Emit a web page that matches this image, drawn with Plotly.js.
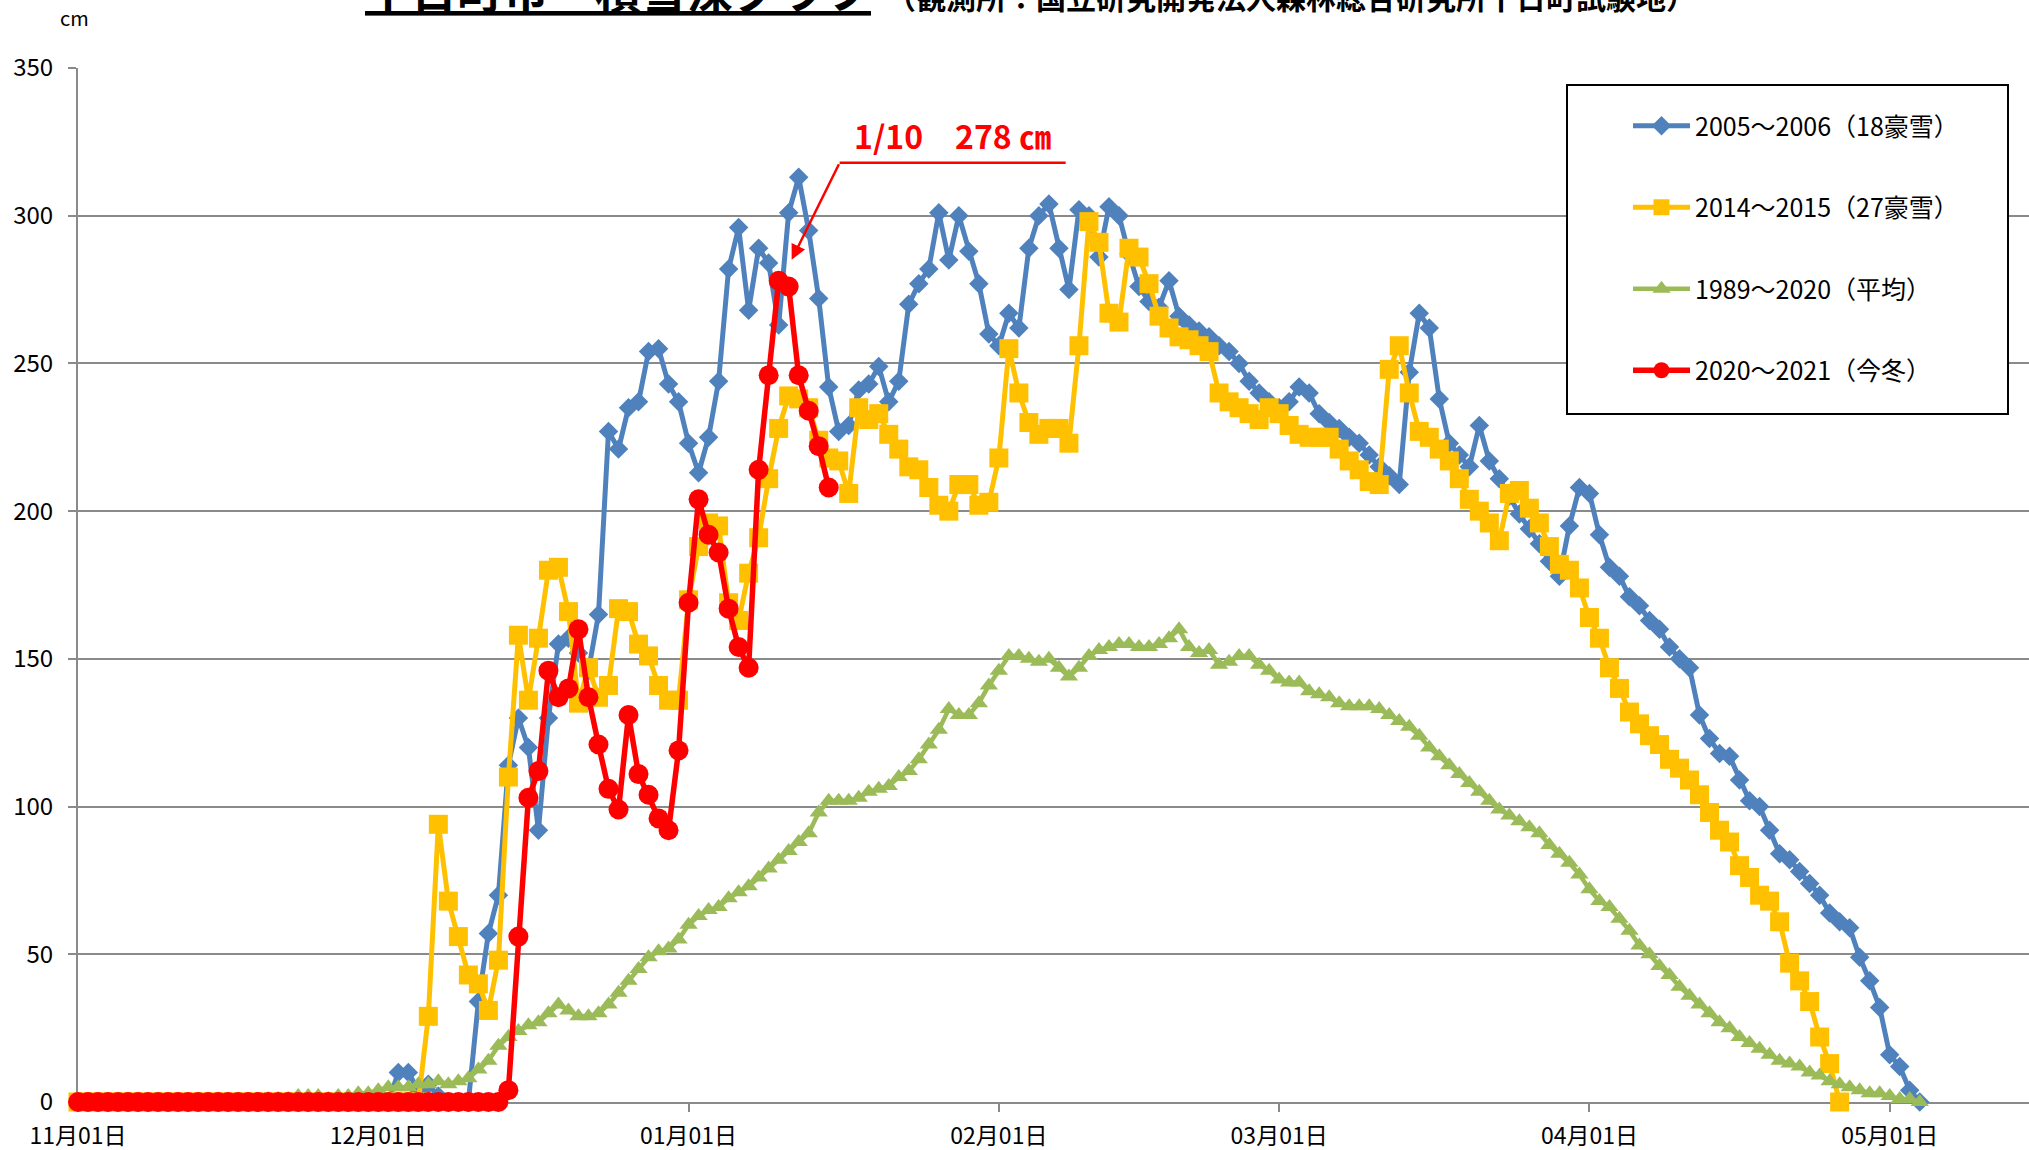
<!DOCTYPE html>
<html><head><meta charset="utf-8">
<script src="https://cdn.plot.ly/plotly-3.0.1.min.js"></script>
<style>html,body{margin:0;padding:0;background:#fff;overflow:hidden}</style>
</head><body><div id="chart" style="width:2029px;height:1150px"></div>
<script>
// ---- data (daily snow depth in cm, day 0 = 11/01) ----
const startDate = [2020, 10, 1]; // UTC year, monthIndex, day
const monthTicks = ['2020-11-01','2020-12-01','2021-01-01','2021-02-01','2021-03-01','2021-04-01','2021-05-01'];
const seriesNames = ['2005～2006（18豪雪）','2014～2015（27豪雪）','1989～2020（平均）','2020～2021（今冬）'];
const seriesColors = ['#4F81BD','#FFC000','#9BBB59','#FF0000'];

const depth2005 = [
0,0,0,0,0,0,0,0,0,0,0,0,0,0,0,0,0,0,0,0,0,0,0,0,0,0,0,0,0,0,0,0,
10,10,4,6,2,0,0,0,
34,57,70,114,130,120,92,130,155,157,
152,146,165,227,221,235,237,254,255,243,
237,223,213,225,244,282,296,268,289,284,
263,301,313,295,272,242,227,229,241,243,
249,237,244,270,277,282,301,285,300,288,
277,260,256,267,262,289,300,304,289,275,
302,300,286,303,300,287,276,271,269,278,
266,263,261,259,256,254,250,244,240,237,
235,237,242,240,233,230,228,225,223,219,
215,212,209,247,267,262,238,223,219,215,
229,217,211,205,199,194,189,183,178,195,
208,206,192,181,178,171,168,163,160,154,
150,147,131,123,118,117,109,102,100,92,
84,82,78,74,70,64,61,59,49,41,
32,16,12,4,0];

const depth2014 = [
0,0,0,0,0,0,0,0,0,0,0,0,0,0,0,0,0,0,0,0,0,0,0,0,0,0,0,0,0,0,0,0,0,0,0,
29,94,68,56,43,
40,31,48,110,158,136,157,180,181,166,
135,147,137,141,167,166,155,151,141,136,
136,170,188,196,195,169,163,179,191,211,
228,239,238,235,224,218,217,206,235,231,
233,226,221,215,214,208,202,200,209,209,
202,203,218,255,240,230,226,228,228,223,
256,298,291,267,264,289,286,277,266,262,
259,258,256,254,240,237,235,233,231,235,
233,229,226,225,225,225,221,217,214,210,
209,248,256,240,227,225,221,217,211,204,
200,196,190,206,207,201,196,188,182,180,
174,164,157,147,140,132,128,124,121,116,
113,109,104,98,92,88,80,76,70,68,
61,47,41,34,22,13,0];

const depthAvg = [
0,0,0,0,0,0,0,0,0,0,0,0,0,0,0,0,0,0,0,
1,1,1,2,2,2,1,2,2,3,
3,4,5,5,5,6,6,7,6,7,8,
11,14,19,22,24,26,27,30,33,31,
29,29,30,33,37,41,45,49,51,52,
55,60,63,65,66,69,71,73,76,79,
82,85,88,91,98,102,102,102,103,105,
106,107,110,112,116,121,126,133,131,131,
135,141,146,151,151,150,149,150,147,144,
147,151,153,154,155,155,154,154,155,157,
160,154,152,153,148,149,151,151,148,146,
143,142,142,139,138,137,135,134,134,134,
133,131,129,127,124,120,117,114,111,108,
105,102,99,97,95,93,91,87,84,81,
77,72,68,66,62,58,53,50,46,43,
39,36,33,30,27,25,22,20,18,16,
14,13,12,10,9,7,6,5,4,3,
3,2,1,1,0];

const depth2020 = [
0,0,0,0,0,0,0,0,0,0,0,0,0,0,0,0,0,0,0,0,0,0,0,0,0,0,0,0,0,0,0,0,0,0,0,0,0,0,0,0,0,0,0,
4,56,103,112,146,137,140,160,137,121,106,99,131,111,104,96,92,119,
169,204,192,186,167,154,147,214,246,278,276,246,234,222,208];

// ---- build ----
function dayDate(i){
  const d = new Date(Date.UTC(startDate[0], startDate[1], startDate[2] + i));
  return d.toISOString().slice(0,10);
}
function xs(arr){ return arr.map((v,i)=>dayDate(i)); }

const FONT = '"Noto Sans CJK JP", "Noto Sans", sans-serif';
const GRID = '#8a8a8a';
const series = [depth2005, depth2014, depthAvg, depth2020];
const symbols = ['diamond','square','triangle-up','circle'];
const msizes = [15, 19, 16, 20];
const lwidths = [5, 5, 4.5, 5.5];

const traces = series.map((s,k)=>({
  type:'scatter', mode:'lines+markers', name:seriesNames[k],
  x: xs(s), y: s, legendgroup:'g'+k, cliponaxis:false,
  line:{color:seriesColors[k], width:lwidths[k]},
  marker:{symbol:symbols[k], size:msizes[k], color:seriesColors[k], line:{width:0}}
}));

// peak of this winter
let pk = 0;
depth2020.forEach((v,i)=>{ if(v > depth2020[pk]) pk = i; });
const pkDate = dayDate(pk);
const pkD = new Date(Date.UTC(startDate[0], startDate[1], startDate[2] + pk));
const pkLabel = (pkD.getUTCMonth()+1) + '/' + pkD.getUTCDate() + '　' + depth2020[pk] + ' ㎝';

// paper helpers (plot area: x 78..2029, y 68..1102)
const L=78, T=68, W=2029, H=1150, B=1102;
const px = X => (X - L)/(W - L);
const py = Y => (B - Y)/(B - T);

const layout = {
  width:W, height:H,
  margin:{l:L, r:0, t:T, b:H-B, pad:0},
  paper_bgcolor:'#fff', plot_bgcolor:'#fff',
  font:{family:FONT, color:'#000'},
  showlegend:true, hovermode:false,
  xaxis:{
    type:'date', range:['2020-11-01','2021-05-14 22:00'],
    tickvals:monthTicks, tickformat:'%m月%d日',
    ticks:'outside', ticklen:8, tickwidth:2, tickcolor:GRID,
    showline:true, linecolor:GRID, linewidth:2, showgrid:false, zeroline:false,
    layer:'below traces', automargin:false,
    tickfont:{size:23, family:FONT, color:'#000'}, ticklabelstandoff:4
  },
  yaxis:{
    range:[0,350], dtick:50, tick0:0,
    ticks:'outside', ticklen:8, tickwidth:2, tickcolor:GRID,
    showline:true, linecolor:GRID, linewidth:2,
    showgrid:true, gridcolor:GRID, gridwidth:2, zeroline:false,
    layer:'below traces', automargin:false,
    tickfont:{size:24, family:FONT, color:'#000'}, ticklabelstandoff:10
  },
  legend:{
    x:px(1628), y:py(103), xanchor:'left', yanchor:'top',
    bgcolor:'rgba(0,0,0,0)', borderwidth:0,
    traceorder:'grouped', tracegroupgap:46, itemwidth:57,
    font:{size:25, family:FONT, color:'#000'}
  },
  shapes:[
    {type:'rect', xref:'paper', yref:'paper', x0:px(1567), x1:px(2008), y0:py(414), y1:py(85),
     line:{color:'#000', width:2}, fillcolor:'#fff', layer:'above'},
    {type:'line', xref:'x', yref:'y', xsizemode:'pixel', ysizemode:'pixel',
     xanchor:pkDate, yanchor:depth2020[pk], x0:61, x1:287, y0:118, y1:118,
     line:{color:'#FF0000', width:2.5}, layer:'above'}
  ],
  annotations:[
    {xref:'paper', yref:'paper', x:px(618), y:py(-12), xanchor:'center', yanchor:'middle',
     text:'<b>十日町市　積雪深グラフ</b>', showarrow:false,
     font:{size:46, family:FONT, color:'#000', lineposition:'under'}},
    {xref:'paper', yref:'paper', x:px(1291), y:py(-4), xanchor:'center', yanchor:'middle',
     text:'<b>（観測所：国立研究開発法人森林総合研究所十日町試験地）</b>', showarrow:false,
     font:{size:30, family:FONT, color:'#000'}},
    {xref:'paper', yref:'paper', x:px(74), y:py(18), xanchor:'center', yanchor:'middle',
     text:'cm', showarrow:false, font:{size:20, family:FONT, color:'#000'}},
    {xref:'x', yref:'y', x:pkDate, y:depth2020[pk], xshift:174, yshift:146,
     text:'<b>'+pkLabel+'</b>', showarrow:false, xanchor:'center', yanchor:'middle',
     font:{size:32, family:FONT, color:'#FF0000'}},
    {xref:'x', yref:'y', x:pkDate, y:depth2020[pk], xshift:13, yshift:21,
     text:'', showarrow:true, ax:48, ay:-97, arrowhead:2, arrowsize:1.2, arrowwidth:2.5,
     arrowcolor:'#FF0000', standoff:0, startstandoff:0}
  ]
};

Plotly.newPlot('chart', traces, layout, {displayModeBar:false, staticPlot:true});
</script></body></html>
